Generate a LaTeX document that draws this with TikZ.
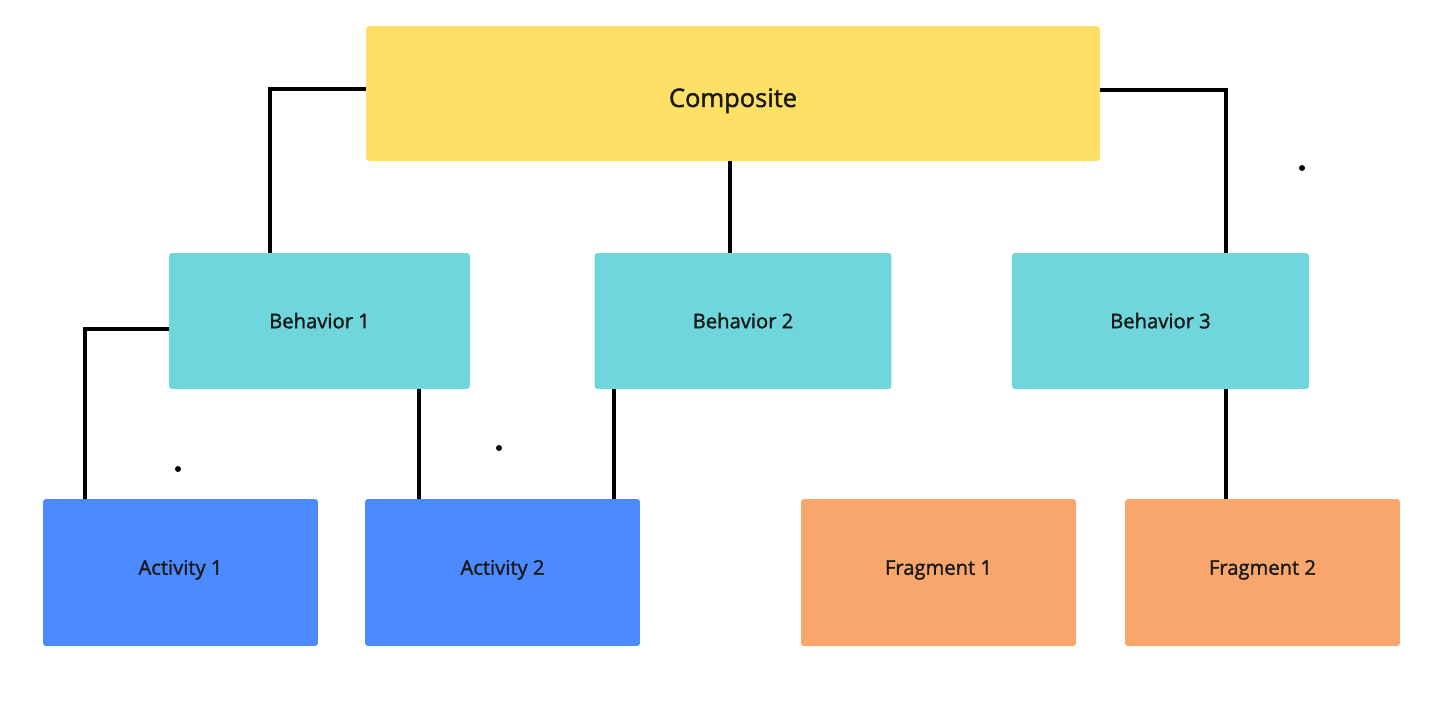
\documentclass[tikz,border=0pt]{standalone}
\usepackage{fontspec}
\setmainfont{Open Sans}
\newfontfamily\boxfont{Open Sans}[FakeBold=1.6]
\usetikzlibrary{positioning}
\definecolor{compyellow}{HTML}{FFE066}
\definecolor{behcyan}{HTML}{6FD6DB}
\definecolor{actblue}{HTML}{4C8AFF}
\definecolor{fragorange}{HTML}{F9A66C}
\tikzset{
    box/.style =    {rectangle,
                    rounded corners=0.06cm,
                    draw=none,
                    text=black!90,
                    text depth=0pt,
                    inner sep=0pt},
    comp/.style =   {box,
                    fill=compyellow,
                    minimum width=14.68cm,
                    minimum height=2.7cm,
                    text height=0.54cm,
                    font=\boxfont\fontsize{14.5}{17}\selectfont},
    beh/.style =    {box,
                    fill=behcyan,
                    minimum width=5.94cm,
                    minimum height=2.72cm,
                    text height=0.29cm,
                    font=\boxfont\fontsize{11.5}{14}\selectfont},
    act/.style =    {box,
                    fill=actblue,
                    minimum width=5.5cm,
                    minimum height=2.94cm,
                    text height=0.09cm,
                    font=\boxfont\fontsize{11.5}{14}\selectfont},
    frag/.style =   {act,
                    fill=fragorange},
    link/.style =   {draw=black,
                    line width=0.08cm},
    dot/.style =    {fill=black}}

\begin{document}
\begin{tikzpicture}[x=0.02cm,y=-0.02cm]
                \useasboundingbox[fill=white] (0,0) rectangle (1430,705);

                \node[comp]     (C)  at (733,93.5)     {Composite};
                \node[beh]      (B1) at (319.5,321)    [minimum width=6.02cm] {Behavior 1};
                \node[beh]      (B2) at (743,321)      {Behavior 2};
                \node[beh]      (B3) at (1160.5,321)   {Behavior 3};
                \node[act]      (A1) at (180.5,572.5)  {Activity 1};
                \node[act]      (A2) at (502.5,572.5)  {Activity 2};
                \node[frag]     (F1) at (938.5,572.5)  {Fragment 1};
                \node[frag]     (F2) at (1262.5,572.5) {Fragment 2};

                % links between the levels
                \draw[link] ([yshift=0.09cm]C.west) -| ([xshift=-0.99cm]B1.north);
                \draw[link] ([xshift=-0.06cm]C.south) -- ([xshift=-0.06cm]C.south |- B2.north);
                \draw[link] ([yshift=0.07cm]C.east) -| ([xshift=1.31cm]B3.north);
                \draw[link] ([yshift=-0.16cm]B1.west) -| ([xshift=-1.91cm]A1.north);
                \draw[link] ([xshift=1.99cm]B1.south) -- ([xshift=1.99cm]B1.south |- A2.north);
                \draw[link] ([xshift=-2.58cm]B2.south) -- ([xshift=-2.58cm]B2.south |- A2.north);
                \draw[link] ([xshift=1.31cm]B3.south) -- ([xshift=1.31cm]B3.south |- F2.north);

                % stray dots
                \fill[dot] (1302,168) circle (0.06cm);
                \fill[dot] (178,469)  circle (0.06cm);
                \fill[dot] (499,448)  circle (0.06cm);
        \end{tikzpicture}
\end{document}
